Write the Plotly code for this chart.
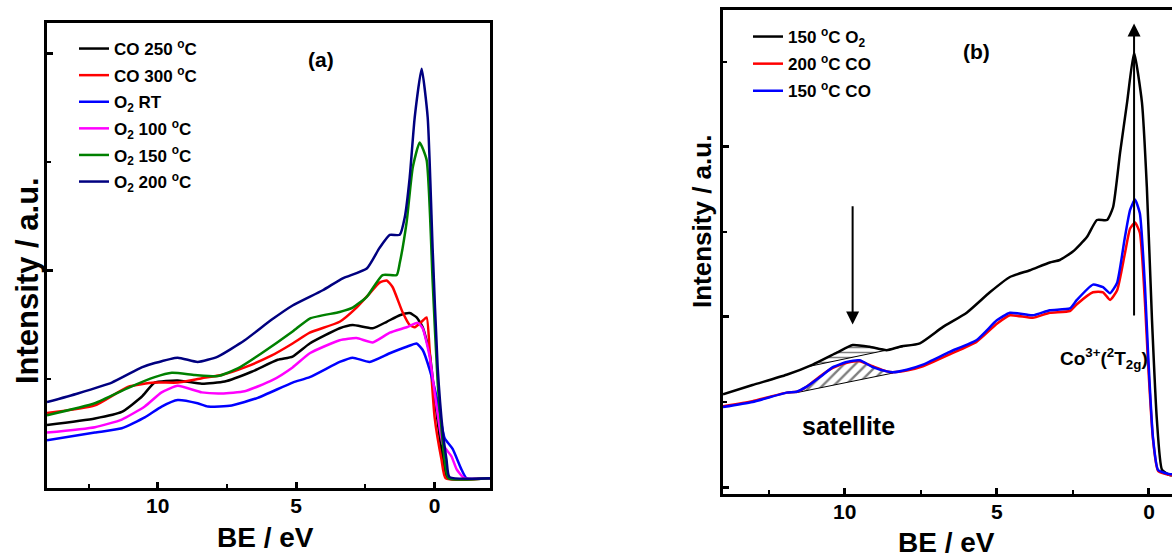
import plotly.graph_objects as go

W, H = 1172, 559
FONT = "Liberation Sans, Arial, sans-serif"

# ---------------- Panel (a) data (BE / eV, intensity a.u.) ----------------
be_co250 = [14.0, 12.27, 11.30, 10.58, 10.11, 9.28, 8.41, 7.58, 6.61, 5.67, 5.13, 4.51, 3.43, 2.96, 2.24, 1.73, 1.26, 0.90, 0.65, 0.43, 0.18, 0.0, -0.18, -0.35, -0.47, -2.0]
int_co250 = [0.58, 0.64, 0.70, 0.84, 0.97, 0.99, 0.96, 0.98, 1.07, 1.18, 1.21, 1.33, 1.47, 1.50, 1.47, 1.53, 1.59, 1.61, 1.57, 1.48, 1.24, 0.84, 0.47, 0.20, 0.09, 0.09]

be_co300 = [14.0, 12.27, 11.08, 10.11, 9.28, 8.41, 7.69, 6.86, 5.88, 5.13, 4.51, 3.43, 2.82, 2.35, 1.99, 1.73, 1.52, 1.16, 0.90, 0.72, 0.47, 0.29, 0.18, 0.0, -0.25, -0.40, -2.0]
int_co300 = [0.69, 0.76, 0.93, 0.97, 0.97, 1.01, 1.04, 1.11, 1.22, 1.33, 1.43, 1.53, 1.66, 1.79, 1.89, 1.91, 1.85, 1.62, 1.50, 1.48, 1.53, 1.57, 1.27, 0.65, 0.26, 0.09, 0.09]

be_o2rt = [14.0, 12.27, 11.30, 10.47, 9.86, 9.28, 8.56, 8.19, 7.33, 6.39, 5.13, 4.51, 3.43, 2.96, 2.35, 1.62, 1.01, 0.65, 0.43, 0.18, -0.07, -0.36, -0.65, -0.97, -1.15, -2.0]
int_o2rt = [0.44, 0.51, 0.55, 0.65, 0.75, 0.81, 0.78, 0.75, 0.76, 0.83, 0.97, 1.02, 1.16, 1.20, 1.16, 1.24, 1.30, 1.33, 1.27, 1.09, 0.84, 0.46, 0.36, 0.17, 0.09, 0.09]

be_o2100 = [14.0, 12.27, 11.30, 10.47, 9.86, 9.28, 8.41, 7.69, 6.86, 5.88, 5.13, 4.51, 3.43, 2.82, 2.24, 1.62, 1.01, 0.61, 0.43, 0.18, -0.07, -0.30, -0.61, -0.80, -1.08, -2.0]
int_o2100 = [0.51, 0.56, 0.63, 0.75, 0.88, 0.94, 0.88, 0.87, 0.89, 0.99, 1.11, 1.24, 1.36, 1.38, 1.34, 1.43, 1.48, 1.52, 1.47, 1.21, 0.75, 0.40, 0.29, 0.17, 0.09, 0.09]

be_o2150 = [14.0, 12.27, 11.08, 10.11, 9.49, 8.66, 7.83, 7.11, 6.25, 5.13, 4.51, 3.43, 2.96, 2.45, 1.88, 1.37, 1.26, 1.01, 0.79, 0.54, 0.29, 0.07, -0.11, -0.36, -0.50, -2.0]
int_o2150 = [0.67, 0.78, 0.92, 1.02, 1.06, 1.04, 1.03, 1.10, 1.24, 1.44, 1.56, 1.62, 1.66, 1.76, 1.96, 1.96, 2.07, 2.45, 2.95, 3.18, 3.02, 1.89, 0.97, 0.26, 0.09, 0.09]

be_o2200 = [14.0, 12.89, 11.66, 10.58, 10.11, 9.28, 8.56, 7.83, 6.86, 5.88, 5.13, 4.04, 3.32, 2.45, 1.99, 1.62, 1.26, 1.08, 0.90, 0.72, 0.47, 0.25, 0.07, -0.11, -0.29, -0.43, -0.54, -2.0]
int_o2200 = [0.79, 0.87, 0.97, 1.11, 1.15, 1.20, 1.16, 1.21, 1.36, 1.55, 1.68, 1.82, 1.93, 2.02, 2.21, 2.33, 2.33, 2.49, 2.86, 3.41, 3.86, 3.41, 2.19, 1.11, 0.53, 0.26, 0.10, 0.09]

names_a = ["CO 250 <sup>o</sup>C", "CO 300 <sup>o</sup>C", "O<sub>2</sub> RT",
           "O<sub>2</sub> 100 <sup>o</sup>C", "O<sub>2</sub> 150 <sup>o</sup>C", "O<sub>2</sub> 200 <sup>o</sup>C"]
colors_a = ["#000000", "#FF0000", "#0000FF", "#FF00FF", "#008000", "#000080"]
series_a = [(be_co250, int_co250), (be_co300, int_co300), (be_o2rt, int_o2rt),
            (be_o2100, int_o2100), (be_o2150, int_o2150), (be_o2200, int_o2200)]

# ---------------- Panel (b) data ----------------
be_b_o2 = [14.0, 13.03, 11.91, 11.05, 10.26, 9.74, 9.18, 8.62, 8.19, 7.53, 6.78, 5.99, 5.23, 4.57, 3.91, 3.26, 2.93, 2.50, 2.04, 1.71, 1.38, 1.18, 0.95, 0.72, 0.49, 0.23, 0.07, -0.10, -0.26, -0.43, -0.69, -0.76]
int_b_o2 = [1.09, 1.20, 1.32, 1.44, 1.58, 1.67, 1.65, 1.61, 1.65, 1.69, 1.88, 2.05, 2.29, 2.47, 2.55, 2.64, 2.67, 2.77, 2.94, 3.14, 3.14, 3.29, 3.93, 4.52, 5.11, 4.52, 3.53, 1.96, 0.79, 0.20, 0.14, 0.14]

be_b_co = [14.0, 13.03, 11.91, 11.58, 11.25, 10.82, 10.39, 9.93, 9.51, 9.08, 8.62, 8.42, 7.96, 7.43, 6.55, 5.66, 5.00, 4.57, 3.82, 3.26, 2.60, 2.37, 1.84, 1.51, 1.28, 1.05, 0.79, 0.62, 0.46, 0.30, 0.13, 0.03, -0.13, -0.30, -0.69, -0.76]
int_b_co200 = [0.95, 1.01, 1.11, 1.12, 1.18, 1.30, 1.40, 1.46, 1.48, 1.42, 1.36, 1.35, 1.37, 1.42, 1.56, 1.71, 1.92, 2.02, 1.99, 2.05, 2.07, 2.15, 2.29, 2.29, 2.20, 2.31, 2.75, 3.04, 3.11, 2.99, 2.16, 1.46, 0.57, 0.19, 0.14, 0.14]
int_b_co150 = [0.94, 1.00, 1.11, 1.12, 1.18, 1.29, 1.41, 1.47, 1.49, 1.41, 1.36, 1.35, 1.38, 1.44, 1.59, 1.73, 1.96, 2.05, 2.02, 2.08, 2.10, 2.20, 2.38, 2.35, 2.28, 2.40, 2.94, 3.26, 3.38, 3.22, 2.35, 1.58, 0.59, 0.20, 0.15, 0.15]

names_b = ["150 <sup>o</sup>C O<sub>2</sub>", "200 <sup>o</sup>C CO", "150 <sup>o</sup>C CO"]
colors_b = ["#000000", "#FF0000", "#0000FF"]
series_b = [(be_b_o2, int_b_o2), (be_b_co, int_b_co200), (be_b_co, int_b_co150)]

# satellite baselines (straight lines under the satellite humps)
sat_o2_base_be = [11.15, 8.09]
sat_o2_base_int = [1.42, 1.65]
sat_co_base_be = [11.58, 8.42]
sat_co_base_int = [1.11, 1.34]

fig = go.Figure()

for i, ((be, it), nm, col) in enumerate(zip(series_a, names_a, colors_a)):
    fig.add_trace(go.Scatter(x=be, y=it, mode="lines", name=nm, legendgroup="a%d" % i,
                             line=dict(color=col, width=2.5, shape="spline", smoothing=0.5),
                             xaxis="x", yaxis="y", legend="legend"))


def hatch_polygon(be, it, base_be, base_it):
    lo, hi = min(base_be), max(base_be)
    px = [base_be[0]] + [b for b in be if lo < b < hi] + [base_be[1]]
    py = [base_it[0]] + [v for b, v in zip(be, it) if lo < b < hi] + [base_it[1]]
    return px + [base_be[0]], py + [base_it[0]]


hx, hy = hatch_polygon(be_b_o2, int_b_o2, sat_o2_base_be, sat_o2_base_int)
fig.add_trace(go.Scatter(x=hx, y=hy, mode="lines", fill="toself", fillcolor="rgba(0,0,0,0)",
                         fillpattern=dict(shape="-", fgcolor="black", bgcolor="rgba(0,0,0,0)", size=5, solidity=0.3),
                         line=dict(color="black", width=1), showlegend=False, hoverinfo="skip",
                         xaxis="x2", yaxis="y2"))
hx, hy = hatch_polygon(be_b_co, int_b_co150, sat_co_base_be, sat_co_base_int)
fig.add_trace(go.Scatter(x=hx, y=hy, mode="lines", fill="toself", fillcolor="rgba(0,0,0,0)",
                         fillpattern=dict(shape="/", fgcolor="black", bgcolor="rgba(0,0,0,0)", size=8, solidity=0.3),
                         line=dict(color="black", width=1), showlegend=False, hoverinfo="skip",
                         xaxis="x2", yaxis="y2"))

for i, ((be, it), nm, col) in enumerate(zip(series_b, names_b, colors_b)):
    fig.add_trace(go.Scatter(x=be, y=it, mode="lines", name=nm, legendgroup="b%d" % i,
                             line=dict(color=col, width=2.5, shape="spline", smoothing=0.5),
                             xaxis="x2", yaxis="y2", legend="legend2"))

tickfont = dict(family=FONT, size=21, color="black", weight="bold")
common_x = dict(showgrid=False, zeroline=False, ticks="inside", ticklen=6, tickwidth=2.5,
                linewidth=2.5, linecolor="black", tickcolor="black", tick0=0, dtick=5,
                minor=dict(dtick=2.5, ticks="inside", ticklen=4, tickwidth=2, tickcolor="black"),
                tickfont=tickfont, ticklabelstandoff=-3)
common_y = dict(showgrid=False, zeroline=False, ticks="inside", ticklen=6, tickwidth=2.5,
                linewidth=2.5, linecolor="black", tickcolor="black", tick0=0, dtick=2,
                minor=dict(dtick=1, ticks="inside", ticklen=4, tickwidth=2, tickcolor="black"),
                showticklabels=False)

legfont = dict(family=FONT, size=17, color="black", weight="bold")

fig.update_layout(
    width=W, height=H, margin=dict(l=0, r=0, t=0, b=0),
    paper_bgcolor="white", plot_bgcolor="white",
    xaxis=dict(domain=[47 / W, 490 / W], range=[14, -2], anchor="y", mirror=True, **common_x),
    yaxis=dict(domain=[1 - 488 / H, 1 - 23 / H], range=[0, 4.28], anchor="x", mirror=True, **common_y),
    xaxis2=dict(domain=[723 / W, 1.0], range=[14, -0.757], anchor="y2", mirror=True, **common_x),
    yaxis2=dict(domain=[1 - 494 / H, 1 - 10 / H], range=[-0.082, 5.61], anchor="x2", mirror=False, **common_y),
    legend=dict(x=74 / W, y=1 - 31 / H, xanchor="left", yanchor="top", bgcolor="rgba(0,0,0,0)",
                font=legfont, tracegroupgap=1.5, itemwidth=30),
    legend2=dict(x=748 / W, y=1 - 19 / H, xanchor="left", yanchor="top", bgcolor="rgba(0,0,0,0)",
                 font=legfont, tracegroupgap=2, itemwidth=30),
    showlegend=True,
)


def ann_font(s):
    return dict(family=FONT, size=s, color="black", weight="bold")


def txt(text, px, py, size, **kw):
    d = dict(text=text, x=px / W, y=1 - py / H, xref="paper", yref="paper", showarrow=False,
             xanchor="center", yanchor="middle", font=ann_font(size))
    d.update(kw)
    return d


annotations = [
    txt("(a)", 321, 59, 21),
    txt("(b)", 976, 51, 21),
    txt("BE / eV", 265, 537, 28),
    txt("BE / eV", 946, 542, 28),
    txt("Intensity / a.u.", 27, 281, 31, textangle=-90),
    txt("Intensity / a.u.", 702, 222, 26, textangle=-90),
    txt("satellite", 848, 426, 25),
    txt("Co<sup>3+</sup>(<sup>2</sup>T<sub>2g</sub>)", 1058, 358, 19, xanchor="left"),
    # arrows
    dict(text="", x=0.49, y=5.45, ax=0.49, ay=2.0, xref="x2", yref="y2", axref="x2", ayref="y2",
         showarrow=True, arrowhead=2, arrowsize=1.3, arrowwidth=2, arrowcolor="black"),
    dict(text="", x=9.74, y=1.91, ax=9.74, ay=3.32, xref="x2", yref="y2", axref="x2", ayref="y2",
         showarrow=True, arrowhead=2, arrowsize=1.3, arrowwidth=2, arrowcolor="black"),
]
fig.update_layout(annotations=annotations)

fig.write_html("out.html")
